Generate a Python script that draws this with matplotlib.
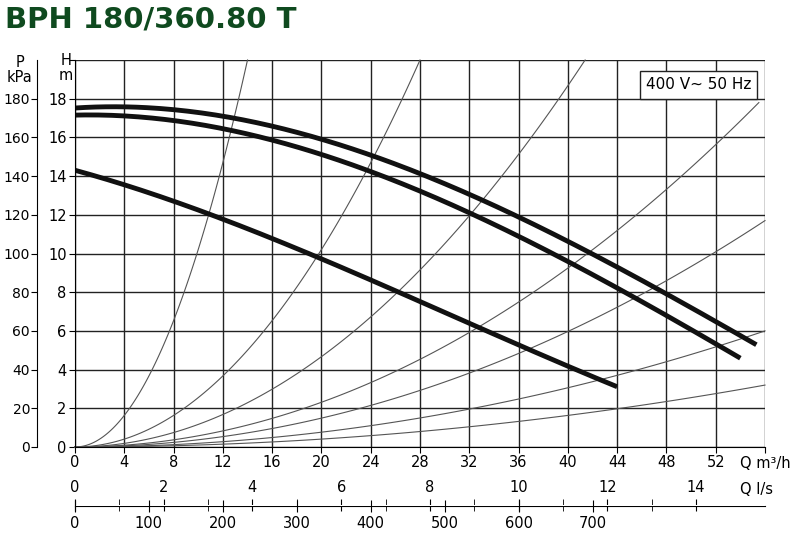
import numpy as np
import matplotlib.pyplot as plt

# pump curves, Q in m3/h, H in m
q_top = [0, 8, 16, 24, 32, 40, 48, 55.3]
h_top = [17.6, 17.3, 16.5, 15.2, 13.2, 10.6, 7.7, 5.4]
q_mid = [0, 8, 16, 24, 32, 40, 48, 54]
h_mid = [17.2, 16.8, 15.8, 14.3, 12.2, 9.6, 6.6, 4.7]
q_low = [0, 8, 16, 24, 32, 40, 44]
h_low = [14.3, 12.7, 10.8, 8.6, 6.4, 4.2, 3.1]

# system parabolas, given by one point each
sys_q = [14, 28, 41.4, 55.5, 56, 56, 56]
sys_h = [20, 20, 20, 17.8, 11.7, 6.0, 3.2]

W, H = 793, 535
fig = plt.figure(figsize=(W / 100, H / 100), dpi=100)

L, R, B, T = 75 / W, 765 / W, 1 - 447 / H, 1 - 60 / H
ax = fig.add_axes([L, B, R - L, T - B])
ax.set_xlim(0, 56)
ax.set_ylim(0, 20)
ax.set_xticks(np.arange(0, 57, 4))
ax.set_yticks(np.arange(0, 21, 2))
ax.grid(True, color='#222222', lw=1)
ax.tick_params(labelsize=10.5, length=4, direction='out', pad=2)
ax.set_xticklabels([str(v) for v in range(0, 53, 4)] + [''])
ax.set_yticklabels([str(v) for v in range(0, 19, 2)] + [''])
for s in ['top', 'right']:
    ax.spines[s].set_visible(False)

for qe, he in zip(sys_q, sys_h):
    qq = np.linspace(0, qe, 100)
    ax.plot(qq, he * (qq / qe) ** 2, color='#555555', lw=0.8, clip_on=False)

# smooth the read points with a low-order fit
for qq, hh in [(q_top, h_top), (q_mid, h_mid), (q_low, h_low)]:
    c = np.polyfit(qq, hh, 3)
    xs = np.linspace(qq[0], qq[-1], 200)
    ax.plot(xs, np.polyval(c, xs), color='#111111', lw=3.5, solid_capstyle='butt')

ax.text(0.98, 0.955, '400 V~ 50 Hz', transform=ax.transAxes, ha='right', va='top',
        fontsize=11, bbox=dict(boxstyle='square,pad=0.4', fc='white', ec='#222222'))
fig.text(66 / W, 1 - 68 / H, 'H\nm', ha='center', va='center', fontsize=10.5, linespacing=0.95)
fig.text(740 / W, 1 - 463 / H, 'Q m³/h', ha='left', va='center', fontsize=10.5)

# P axis in kPa
axp = fig.add_axes([37 / W, B, 0.001, T - B])
axp.set_ylim(0, 200)
axp.set_yticks(np.arange(0, 181, 20))
axp.set_xticks([])
axp.tick_params(labelsize=10, length=4, pad=1)
for s in ['top', 'right', 'bottom']:
    axp.spines[s].set_visible(False)
fig.text(20 / W, 1 - 70 / H, 'P\nkPa', ha='center', va='center', fontsize=10.5, linespacing=0.95)

# l/s axis
axs = fig.add_axes([L, 1 - 506 / H, R - L, 0.001])
axs.set_xlim(0, 56 / 3.6)
axs.set_xticks(np.arange(0, 15, 2))
axs.set_xticks(np.arange(0, 15, 1), minor=True)
axs.set_yticks([])
axs.xaxis.set_ticks_position('top')
axs.tick_params(which='both', direction='inout', length=8, labelsize=10.5)
for s in ['top', 'left', 'right']:
    axs.spines[s].set_visible(False)
fig.text(740 / W, 1 - 490 / H, 'Q l/s', ha='left', va='center', fontsize=10.5)

# l/min axis
axm = fig.add_axes([L, 1 - 506 / H, R - L, 0.001])
axm.set_xlim(0, 56 / 0.06)
axm.set_xticks(np.arange(0, 701, 100))
axm.set_yticks([])
axm.tick_params(direction='inout', length=8, labelsize=10.5)
for s in ['top', 'left', 'right', 'bottom']:
    axm.spines[s].set_visible(False)

fig.text(5 / W, 1 - 20 / H, 'BPH 180/360.80 T', fontsize=21, fontweight='bold',
         color='#0f4a1f', ha='left', va='center', family='DejaVu Sans')

fig.savefig('out.png', dpi=100)
